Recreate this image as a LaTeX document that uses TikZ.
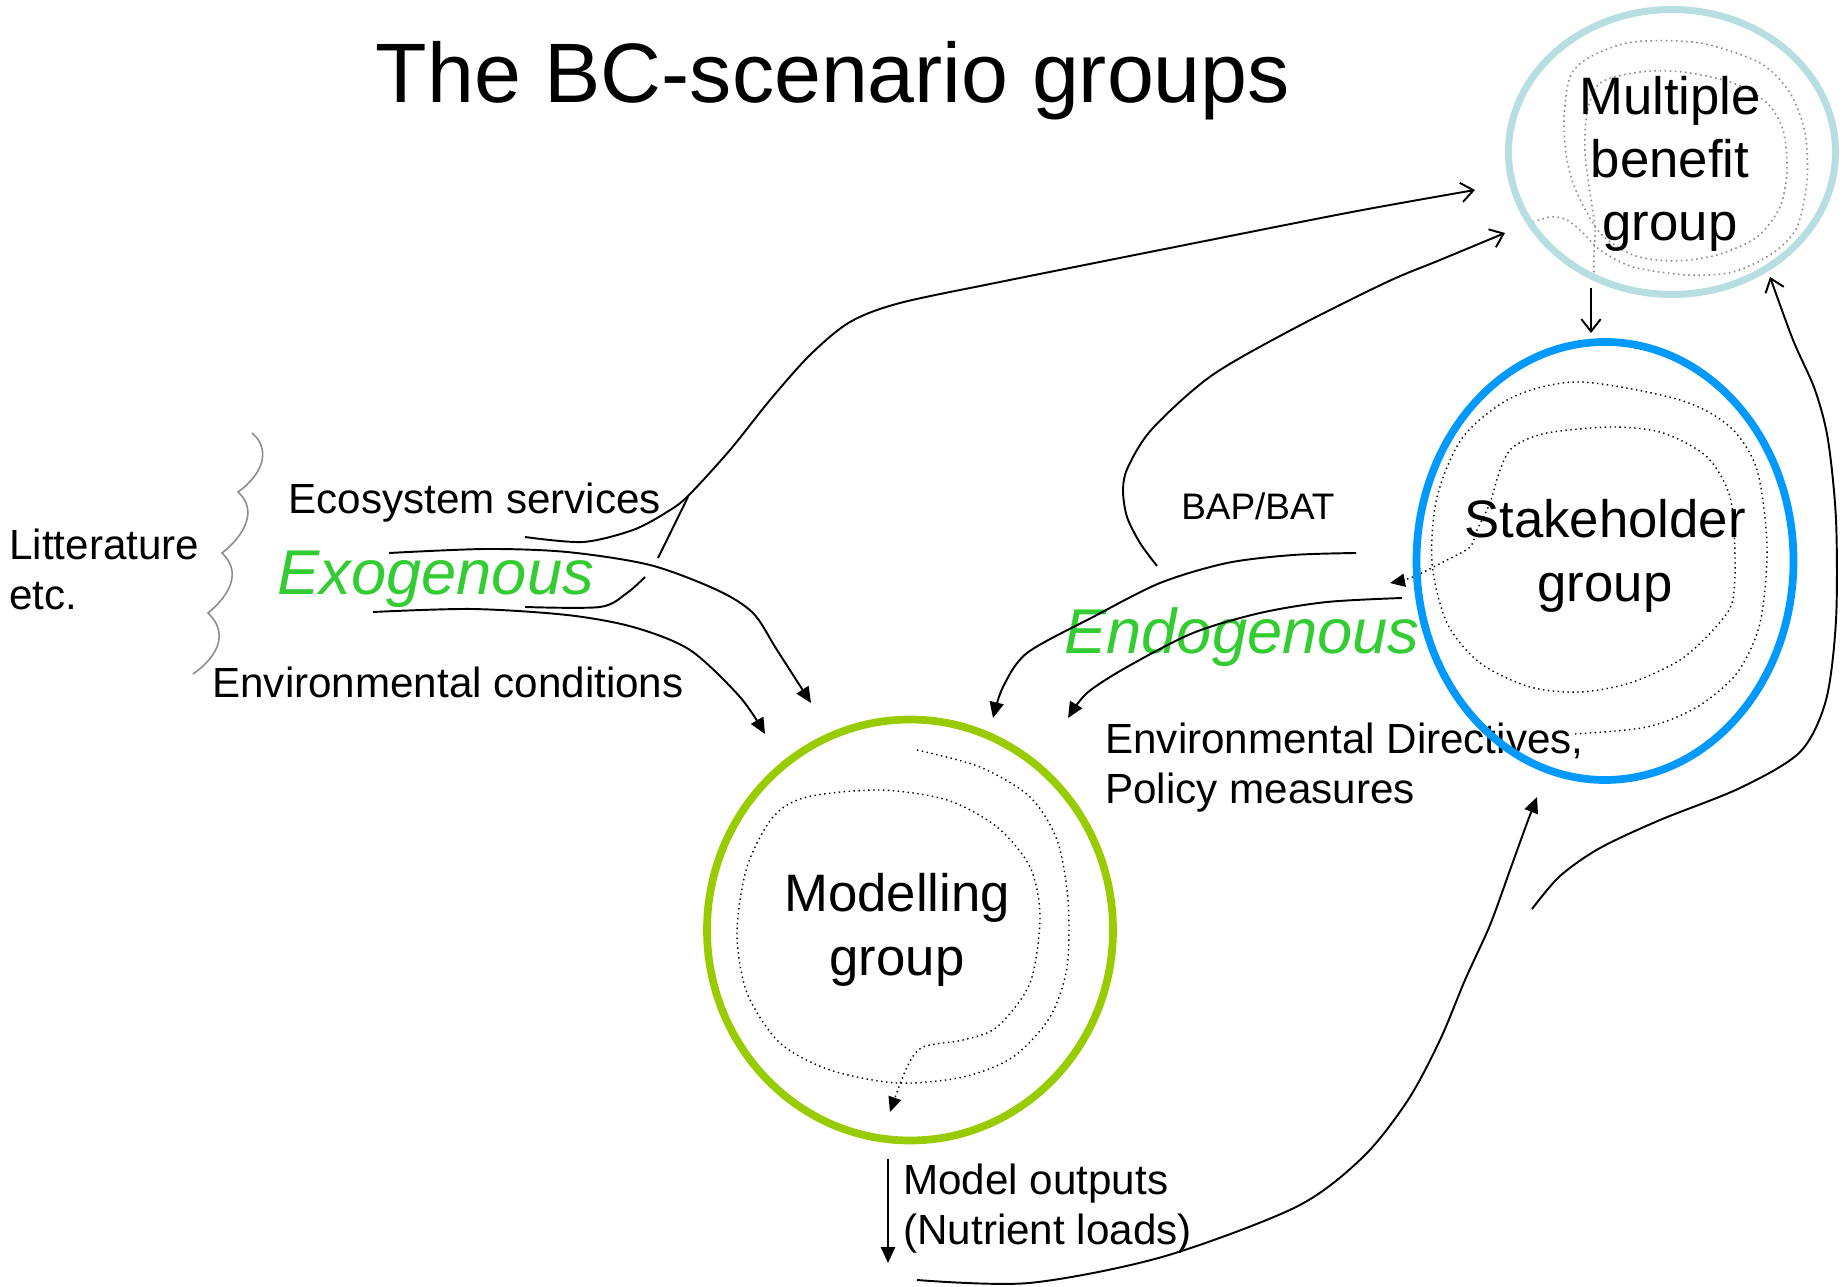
\documentclass[tikz,border=0pt]{standalone}
\usepackage{fontspec}
\setmainfont{Liberation Sans}
\usetikzlibrary{arrows.meta,shapes.geometric}

\definecolor{benefitcol}{RGB}{183,222,225}
\definecolor{stakecol}{RGB}{0,153,255}
\definecolor{modelcol}{RGB}{153,204,0}
\definecolor{genocol}{RGB}{51,204,51}
\definecolor{wavecol}{RGB}{140,140,140}

\tikzset{
  ring/.style={ellipse, draw=#1, line width=4.4pt, inner sep=0pt},
  grouptext/.style={align=center, inner sep=0pt, font=\fontsize{30}{36}\selectfont},
  smalltext/.style={inner sep=0pt, font=\fontsize{24}{28.5}\selectfont},
  genotext/.style={inner sep=0pt, text=genocol, font=\fontsize{36}{43}\selectfont\itshape},
  flow/.style={line width=1.1pt, -{Triangle[length=9pt,width=8pt]}},
  feed/.style={line width=1.1pt, -{Straight Barb[length=7pt,width=11pt]}},
  spiral/.style={line width=0.8pt, dotted, -{Triangle[length=8.5pt,width=7.5pt]}},
  graydots/.style={line width=0.9pt, dotted, draw=wavecol},
}

\begin{document}
\begin{tikzpicture}[x=0.2mm, y=0.2mm]
    \useasboundingbox (0,0) rectangle (1843,1286);

    \node[inner sep=0pt, anchor=base, font=\fontsize{48}{58}\selectfont] (title) at (833,1183) {The BC-scenario groups};

    \node[smalltext, align=left, anchor=west] (lit) at (9,717) {Litterature\\etc.};
    \draw[wavecol, line width=0.9pt] (252,853) .. controls (272,836) and (262,811) .. (238,794)
        .. controls (258,776) and (245,751) .. (222,733)
        .. controls (242,714) and (230,691) .. (208,673)
        .. controls (228,654) and (220,631) .. (193,612);

    \node[smalltext, anchor=base west] (eco) at (288,772) {Ecosystem services};
    \node[genotext, anchor=base west] (exo) at (277,691) {Exogenous};
    \node[smalltext, anchor=base west] (envcond) at (212,588) {Environmental conditions};

    \node[inner sep=0pt, anchor=base west, font=\fontsize{21}{25}\selectfont] (bap) at (1181,766) {BAP/BAT};
    \node[genotext, anchor=base west] (endo) at (1064,632) {Endogenous};
    \node[smalltext, align=left, anchor=west] (envdir) at (1105,518) {Environmental Directives,\\Policy measures};
    \node[smalltext, align=left, anchor=west] (outputs) at (903,77) {Model outputs\\(Nutrient loads)};

    \coordinate (ecostart) at (525,749);
    \coordinate (benefitin1) at (1475,1096);
    \draw[feed] plot[smooth] coordinates {(ecostart) (583,744) (633,756) (667,774) (688,790) (730,836) (770,886) (810,931) (850,964) (900,983) (1000,1004) (1175,1039) (1352,1074) (benefitin1)};

    \coordinate (exojoin) at (658,728);
    \coordinate (ecojoin) at (688,789);
    \draw[line width=1.1pt] (exojoin) -- (ecojoin);

    \coordinate (exotail) at (525,679);
    \coordinate (exotailend) at (645,709);
    \draw[line width=1.1pt] plot[smooth] coordinates {(exotail) (600,679) (627,693) (exotailend)};

    \coordinate (exo1) at (389,733);
    \coordinate (modelin1) at (811,583);
    \draw[flow] plot[smooth] coordinates {(exo1) (486,737) (567,734) (650,721) (717,696) (753,673) (777,636) (modelin1)};

    \coordinate (exo2) at (373,674);
    \coordinate (modelin2) at (765,552);
    \draw[flow] plot[smooth] coordinates {(exo2) (472,677) (567,671) (633,659) (690,636) (740,589) (modelin2)};

    \coordinate (bapstart) at (1157,720);
    \coordinate (benefitin2) at (1505,1053);
    \draw[feed] plot[smooth] coordinates {(bapstart) (1140,743) (1127,769) (1123,796) (1128,819) (1152,857) (1211,910) (1293,957) (1387,1004) (1440,1026) (benefitin2)};

    \coordinate (endo1) at (1356,733);
    \coordinate (modelin3) at (993,568);
    \draw[flow] plot[smooth] coordinates {(endo1) (1293,731) (1227,723) (1160,703) (1093,669) (1027,633) (1003,599) (modelin3)};

    \coordinate (endo2) at (1402,688);
    \coordinate (modelin4) at (1068,568);
    \draw[flow] plot[smooth] coordinates {(endo2) (1327,684) (1260,673) (1193,653) (1127,619) (1087,593) (modelin4)};

    \coordinate (benefitout) at (1591,998);
    \coordinate (stakein1) at (1591,953);
    \draw[feed] (benefitout) -- (stakein1);

    \coordinate (stakeback) at (1532,377);
    \coordinate (benefitin3) at (1770,1009);
    \draw[feed] plot[smooth] coordinates {(stakeback) (1560,410) (1600,438) (1660,466) (1740,498) (1800,534) (1826,586) (1836,666) (1836,766) (1828,846) (1815,896) (1793,946) (benefitin3)};

    \coordinate (outputsend) at (917,6);
    \coordinate (stakein2) at (1537,489);
    \draw[flow] plot[smooth] coordinates {(outputsend) (1029,3) (1162,29) (1296,79) (1363,129) (1408,186) (1440,246) (1465,306) (1490,361) (1510,416) (1527,463) (stakein2)};

    \coordinate (modelout) at (888,127);
    \coordinate (outputstip) at (888,23);
    \draw[flow] (modelout) -- (outputstip);

    \coordinate (modelspin) at (917,536);
    \coordinate (modelspout) at (890,174);
    \draw[spiral] plot[smooth] coordinates {(modelspin) (980,519) (1030,489) (1057,446) (1068,386) (1067,319) (1050,269) (1013,229) (963,209) (897,203) (830,216) (780,243) (747,293) (737,353) (747,419) (773,469) (807,489) (880,496) (947,486) (997,459) (1030,419) (1040,369) (1030,303) (997,259) (963,246) (923,239) (907,219) (modelspout)};

    \coordinate (stakespin) at (1575,552);
    \coordinate (stakespout) at (1390,703);
    \draw[spiral] plot[smooth] coordinates {(stakespin) (1647,559) (1697,579) (1737,613) (1760,663) (1767,739) (1757,816) (1730,859) (1680,886) (1580,904) (1513,889) (1463,849) (1437,789) (1432,723) (1447,663) (1480,623) (1530,599) (1580,594) (1630,603) (1680,626) (1713,656) (1732,683) (1735,729) (1730,789) (1707,829) (1663,853) (1613,859) (1547,853) (1513,839) (1500,816) (1490,783) (1477,756) (1470,739) (1447,726) (1413,709) (stakespout)};

    \coordinate (benefitspin) at (1528,1062);
    \coordinate (benefitspout) at (1594,1006);
    \draw[graydots] plot[smooth] coordinates {(benefitspin) (1550,1069) (1567,1066) (1583,1053) (1600,1036) (1633,1019) (1687,1011) (1733,1014) (1773,1033) (1797,1059) (1807,1106) (1805,1153) (1790,1193) (1760,1223) (1700,1243) (1633,1244) (1590,1229) (1570,1209) (1564,1166) (1567,1126) (1577,1093) (1600,1053) (1633,1031) (1673,1025) (1717,1031) (1757,1049) (1780,1079) (1787,1116) (1783,1156) (1767,1183) (1733,1203) (1683,1214) (1640,1214) (1600,1203) (1587,1173) (1585,1133) (1590,1093) (1595,1059) (1594,1033) (benefitspout)};

    \node[ring=benefitcol, line width=4pt, minimum width=65.4mm, minimum height=57mm] (benefit) at (1672,1134) {};
    \node[ring=stakecol, minimum width=75.4mm, minimum height=87.6mm] (stake) at (1605,725) {};
    \node[ring=modelcol, minimum width=81.2mm, minimum height=84.2mm] (model) at (910,356) {};

    \node[grouptext] (benefittext) at (1670,1122) {Multiple\\benefit\\group};
    \node[grouptext] (staketext) at (1605,730) {Stakeholder\\group};
    \node[grouptext] (modeltext) at (897,356) {Modelling\\group};
\end{tikzpicture}
\end{document}
